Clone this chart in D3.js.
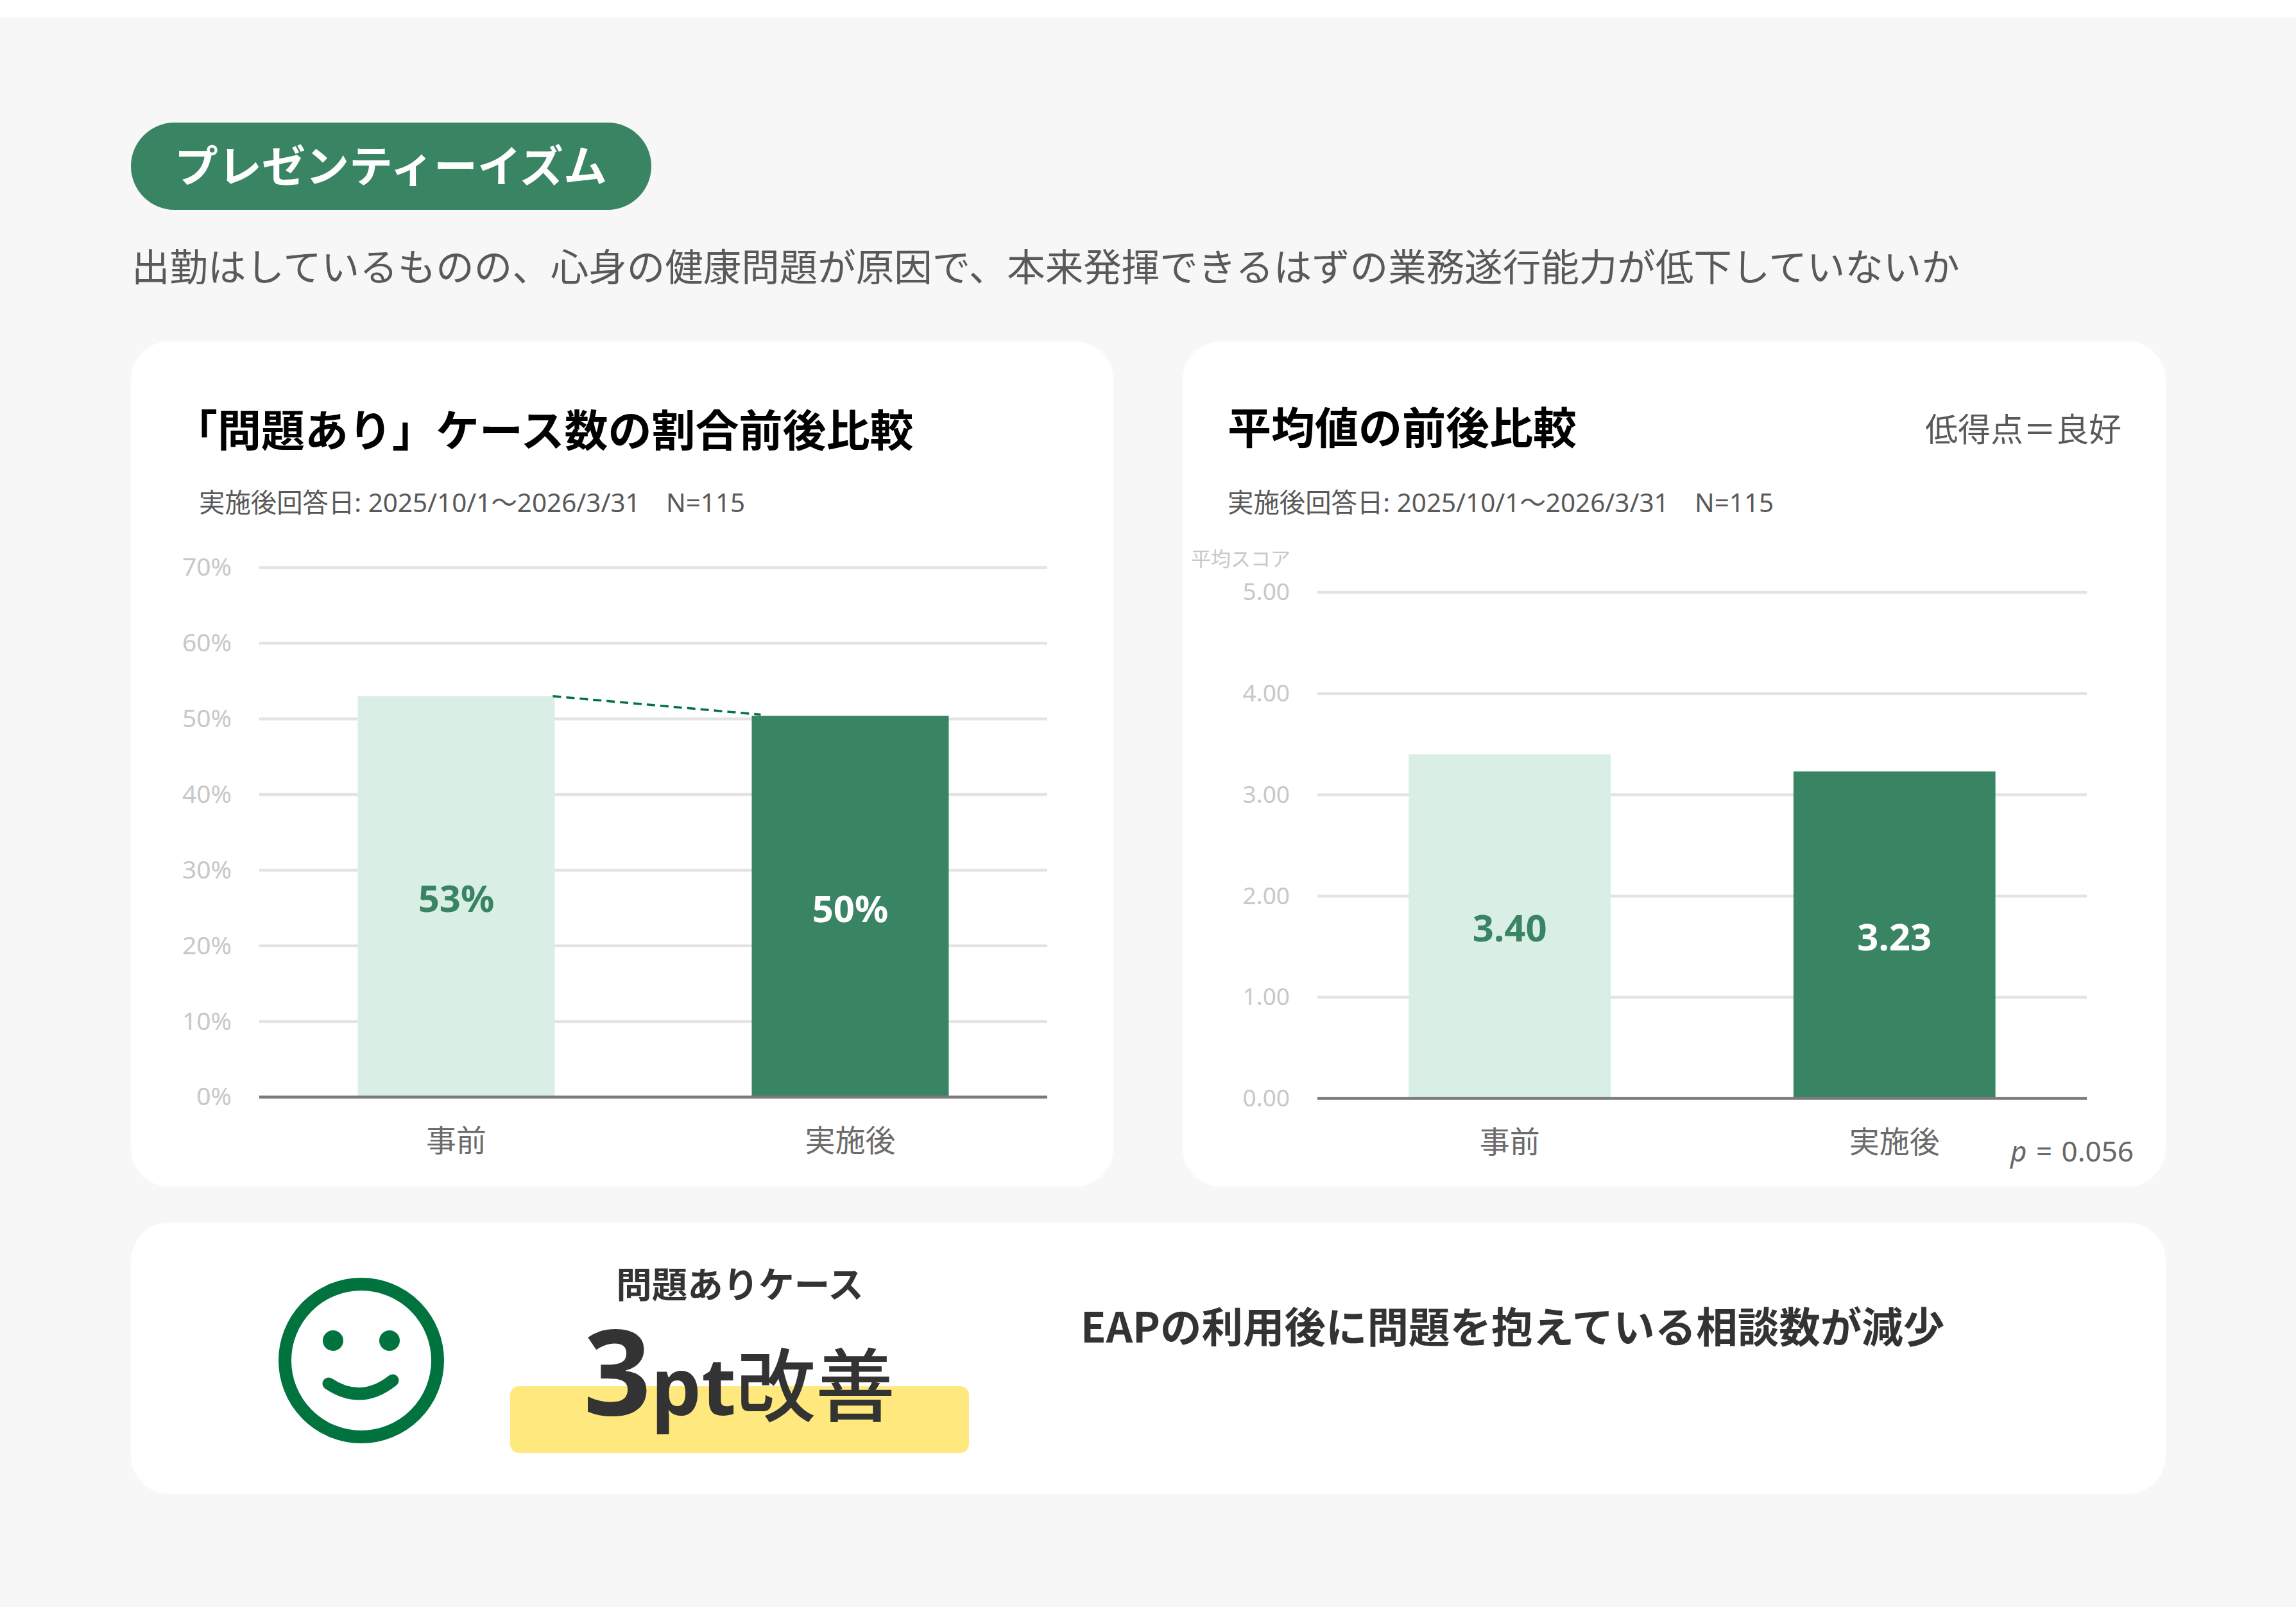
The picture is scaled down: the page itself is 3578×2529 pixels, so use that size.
<!DOCTYPE html>
<html><head><meta charset="utf-8">
<script src="https://cdn.jsdelivr.net/npm/d3@7"></script>
<style>html,body{margin:0;padding:0;background:#fff}svg{display:block}
text{font-family:"Noto Sans","Noto Sans CJK JP",sans-serif}
.jp{font-family:"Noto Sans CJK JP","Noto Sans",sans-serif}</style>
</head><body><svg id="c"></svg>
<script>
const categories = ["事前","実施後"];
const rateValues = [53, 50.4];
const rateLabels = ["53%","50%"];
const rateTicks = [0,10,20,30,40,50,60,70];
const scoreValues = [3.40, 3.23];
const scoreLabels = ["3.40","3.23"];
const scoreTicks = [0,1,2,3,4,5];

const W=3578,H=2529;
const GREEN="#388463",LIGHT="#d9eee4",DEEP="#00733f";
const svg=d3.select("#c").attr("width",W).attr("height",H).attr("viewBox",`0 0 ${W} ${H}`);
const T=(x,y,s,size,fill,opt={})=>svg.append("text").attr("x",x).attr("y",y).text(s)
  .attr("font-size",size).attr("fill",fill).attr("font-weight",opt.w||400)
  .attr("text-anchor",opt.a||"start").attr("class",opt.c||null);

svg.append("rect").attr("x",0).attr("y",27).attr("width",W).attr("height",H-27-25).attr("fill","#f7f7f7");
svg.append("rect").attr("x",204).attr("y",191).attr("width",811).attr("height",136).attr("rx",68).attr("fill",GREEN);
T(272,284,"プレゼンティーイズム",68,"#fff",{w:700,c:"jp"});
T(205,438,"出勤はしているものの、心身の健康問題が原因で、本来発揮できるはずの業務遂行能力が低下していないか",59.5,"#595959",{c:"jp"});

const card=(x,y,w,h,r)=>svg.append("rect").attr("x",x).attr("y",y).attr("width",w).attr("height",h).attr("rx",r).attr("fill","#fff");
card(204,532,1531,1317,60);
card(1843,532,1532,1317,60);
card(204,1905,3171,423,60);

T(271,696,"「問題あり」ケース数の割合前後比較",68,"#000",{w:700,c:"jp"});
T(310,798,"実施後回答日: 2025/10/1～2026/3/31　N=115",40.4,"#595959");
T(1913,692,"平均値の前後比較",68,"#000",{w:700,c:"jp"});
T(1913,798,"実施後回答日: 2025/10/1～2026/3/31　N=115",40.4,"#595959");
T(3306,688,"低得点＝良好",51,"#595959",{a:"end",c:"jp"});

function chart(o){
  const x=d3.scaleBand().domain(categories).range(o.xr).paddingInner(o.pad).paddingOuter(o.pad/2);
  const y=d3.scaleLinear().domain(o.yd).range(o.yr);
  const g=svg.append("g");
  const ax=d3.axisLeft(y).tickValues(o.ticks).tickSize(0).tickPadding(43).tickFormat(o.fmt);
  const ag=g.append("g").attr("transform",`translate(${o.xr[0]},${o.tickDy})`).call(ax);
  ag.select(".domain").remove();
  ag.selectAll("text").attr("font-size",o.tickSize).attr("fill","#c8c8c8").attr("font-family",'"Noto Sans"');
  g.selectAll(".grid").data(o.ticks.slice(1)).join("line")
    .attr("x1",o.xr[0]).attr("x2",o.xr[1]).attr("y1",d=>y(d)).attr("y2",d=>y(d))
    .attr("stroke","#e3e3e3").attr("stroke-width",4.5);
  g.selectAll(".bar").data(o.values).join("rect")
    .attr("x",(d,i)=>x(categories[i])).attr("width",x.bandwidth())
    .attr("y",d=>y(d)).attr("height",d=>y(0)-y(d))
    .attr("fill",(d,i)=>i?GREEN:LIGHT);
  g.append("line").attr("x1",o.xr[0]).attr("x2",o.xr[1]).attr("y1",y(0)).attr("y2",y(0))
    .attr("stroke","#7a7a7a").attr("stroke-width",4.5);
  g.selectAll(".val").data(o.values).join("text")
    .attr("x",(d,i)=>x(categories[i])+x.bandwidth()/2)
    .attr("y",d=>(y(d)+y(0))/2+24)
    .attr("text-anchor","middle").attr("font-size",58).attr("font-weight",700)
    .attr("fill",(d,i)=>i?"#fff":GREEN).text((d,i)=>o.labels[i]);
  g.selectAll(".cat").data(categories).join("text").attr("class","jp")
    .attr("x",d=>x(d)+x.bandwidth()/2).attr("y",o.catY)
    .attr("text-anchor","middle").attr("font-size",47).attr("fill","#6b6b6b").text(d=>d);
  return {x,y};
}
const a=chart({xr:[404,1632],yr:[1709.5,884.5],yd:[0,70],pad:.5,values:rateValues,labels:rateLabels,ticks:rateTicks,fmt:d=>d+"%",catY:1794,tickSize:39,tickDy:0});
svg.append("line").attr("x1",a.x(categories[0])+a.x.bandwidth()-3).attr("y1",a.y(rateValues[0]))
  .attr("x2",a.x(categories[1])+14).attr("y2",a.y(rateValues[1])-2)
  .attr("stroke",DEEP).attr("stroke-width",3.5).attr("stroke-dasharray","13 8");
chart({xr:[2053,3252],yr:[1711.6,923],yd:[0,5],pad:.475,values:scoreValues,labels:scoreLabels,ticks:scoreTicks,fmt:d=>d.toFixed(2),catY:1796,tickSize:37,tickDy:0});
T(1856,882,"平均スコア",31,"#c8c8c8",{c:"jp"});
const pt=T(3133,1810,"",44,"#666").attr("word-spacing",3);
pt.append("tspan").attr("font-style","italic").text("p");
pt.append("tspan").text(" = 0.056");

// summary
const s=svg.append("g").attr("fill","none");
s.append("circle").attr("cx",563).attr("cy",2120).attr("r",119).attr("stroke",DEEP).attr("stroke-width",20);
[519,607].forEach(cx=>svg.append("circle").attr("cx",cx).attr("cy",2089).attr("r",16).attr("fill",DEEP));
svg.append("path").attr("d","M512 2156Q563 2190 612 2151")
  .attr("fill","none").attr("stroke",DEEP).attr("stroke-width",19).attr("stroke-linecap","round");
svg.append("rect").attr("x",795).attr("y",2160).attr("width",715).attr("height",104).attr("rx",14).attr("fill","#ffe97f");
T(1153,2022,"問題ありケース",55.5,"#333",{w:700,a:"middle",c:"jp"});
const big=T(1152,2205,"",124,"#333",{w:700,a:"middle"});
big.append("tspan").attr("font-size",185).text("3");
big.append("tspan").text("pt");
big.append("tspan").attr("class","jp").attr("font-weight",500).text("改善");
T(1684,2092,"EAPの利用後に問題を抱えている相談数が減少",64.5,"#333",{w:700,c:"jp"});
</script></body></html>
